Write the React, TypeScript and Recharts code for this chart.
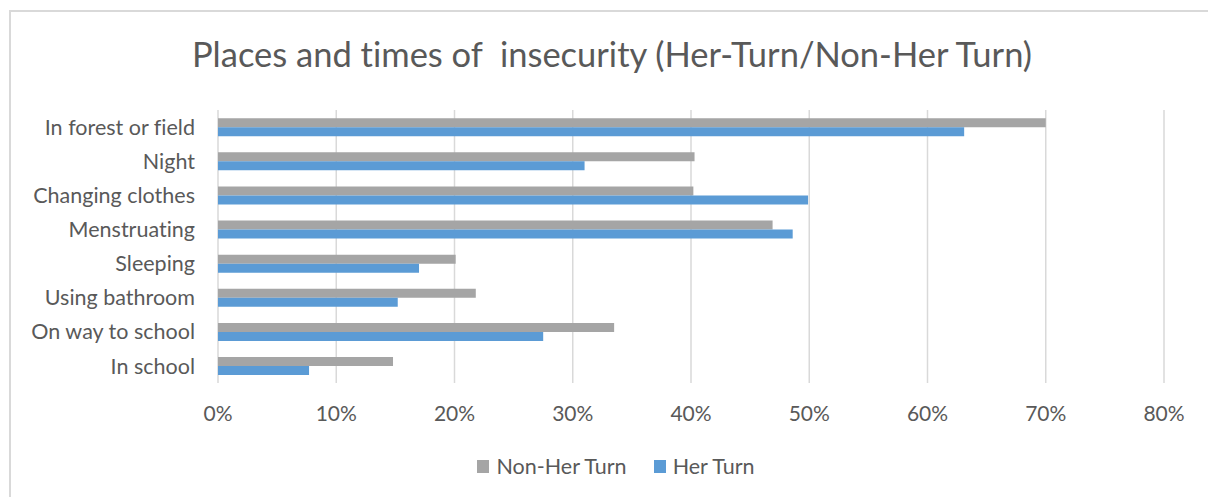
import { BarChart, Bar, XAxis, YAxis, CartesianGrid } from 'recharts'

const categories = [
  'In forest or field',
  'Night',
  'Changing clothes',
  'Menstruating',
  'Sleeping',
  'Using bathroom',
  'On way to school',
  'In school',
]
const nonHerTurn = [70.0, 40.3, 40.2, 46.9, 20.1, 21.8, 33.5, 14.8]
const herTurn = [63.1, 31.0, 49.9, 48.6, 17.0, 15.2, 27.5, 7.7]
const percentTicks = [0, 10, 20, 30, 40, 50, 60, 70, 80]

const FONT = 'Lato, "Open Sans", sans-serif'
const TEXT = '#595959'
const GRAY = '#A5A5A5'
const BLUE = '#5B9BD5'

const chartData = categories.map((name, i) => ({
  name,
  nonHer: nonHerTurn[i],
  her: herTurn[i],
}))

const legendItems = [
  { label: 'Non-Her Turn', color: GRAY },
  { label: 'Her Turn', color: BLUE },
]

export default function App() {
  return (
    <div
      style={{
        position: 'relative',
        width: 1208,
        height: 497,
        overflow: 'hidden',
        background: '#fff',
        fontFamily: FONT,
        fontVariantLigatures: 'none',
      }}
    >
      <style>{'html, body { margin: 0; overflow: hidden; } svg text { font-variant-ligatures: none; }'}</style>
      {/* chart frame, runs off the right and bottom edges */}
      <div
        style={{
          position: 'absolute',
          left: 9,
          top: 10,
          width: 1220,
          height: 520,
          border: '2px solid #D9D9D9',
        }}
      />
      <div
        style={{
          position: 'absolute',
          left: 0,
          width: 1224,
          top: 33,
          lineHeight: '42px',
          textAlign: 'center',
          fontSize: 34.5,
          color: TEXT,
          whiteSpace: 'pre',
        }}
      >
        {'Places and times of  insecurity (Her-Turn/Non-Her Turn)'}
      </div>
      <div style={{ position: 'absolute', left: 0, top: 0 }}>
        <BarChart
          width={1208}
          height={497}
          data={chartData}
          layout="vertical"
          margin={{ top: 110, right: 44, bottom: 84, left: 0 }}
          barCategoryGap="24%"
          barGap={0}
        >
          <CartesianGrid horizontal={false} stroke="#D9D9D9" strokeWidth={1.5} />
          <XAxis
            type="number"
            domain={[0, 80]}
            ticks={percentTicks}
            tickFormatter={(v: number) => `${v}%`}
            axisLine={false}
            tickLine={false}
            tickSize={0}
            tickMargin={23}
            height={30}
            tick={{ fill: TEXT, fontSize: 21, fontFamily: FONT }}
          />
          <YAxis
            type="category"
            dataKey="name"
            width={218}
            axisLine={false}
            tickLine={false}
            tickSize={0}
            tickMargin={23}
            interval={0}
            tick={{ fill: TEXT, fontSize: 21.5, fontFamily: FONT }}
          />
          <Bar dataKey="nonHer" fill={GRAY} isAnimationActive={false} />
          <Bar dataKey="her" fill={BLUE} isAnimationActive={false} />
        </BarChart>
      </div>
      <div
        style={{
          position: 'absolute',
          left: 0,
          width: 1232,
          top: 453,
          display: 'flex',
          justifyContent: 'center',
          gap: 27,
          fontSize: 21.5,
          color: TEXT,
        }}
      >
        {legendItems.map((item) => (
          <div key={item.label} style={{ display: 'flex', alignItems: 'center' }}>
            <span
              style={{
                display: 'inline-block',
                width: 12,
                height: 13,
                background: item.color,
                marginRight: 7,
              }}
            />
            {item.label}
          </div>
        ))}
      </div>
    </div>
  )
}
